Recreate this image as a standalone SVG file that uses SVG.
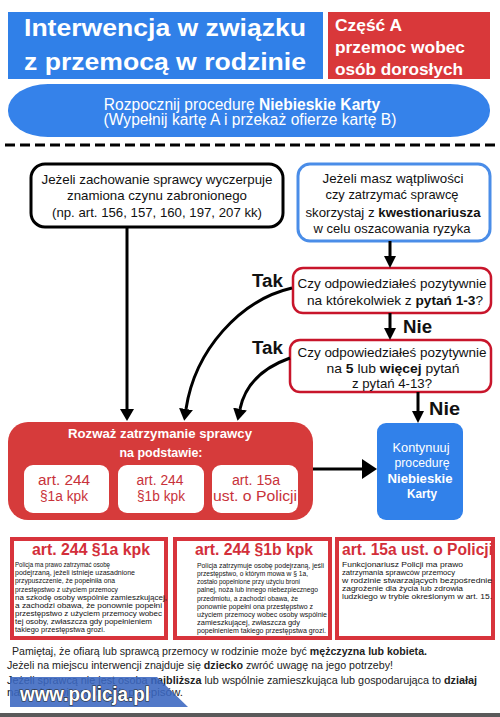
<svg xmlns="http://www.w3.org/2000/svg" width="500" height="717" viewBox="0 0 500 717">
<defs>
<style>
text{font-family:"Liberation Sans",Arial,sans-serif;}
.wt{fill:#fff}
.bd{font-weight:bold}
.ttl{font-size:23px;font-weight:bold;fill:#fff;text-anchor:middle}
.prt{font-size:16px;font-weight:bold;fill:#fff}
.band{font-size:15.6px;fill:#fff;text-anchor:middle}
.q{font-size:13.4px;fill:#111;text-anchor:middle}
.tak{font-size:18px;font-weight:bold;fill:#111}
.kt{font-size:13.5px;fill:#fff;text-anchor:middle}
.art{font-size:15.5px;fill:#c8323a;text-anchor:middle}
.hd{font-size:16px;font-weight:bold;fill:#d32f3a}
.sm{font-size:7.6px;fill:#111}
.ft{font-size:11px;fill:#222}
.box{fill:#fff;stroke-width:3}
.qb{fill:#fff;stroke:#c8152b;stroke-width:2.5}
.ar{fill:none;stroke:#000;stroke-width:3}
.lb{fill:#fff;stroke:#d8343c;stroke-width:4}
</style>
<marker id="ah" viewBox="0 0 12 14" markerWidth="12" markerHeight="14" refX="0" refY="7" orient="auto" markerUnits="userSpaceOnUse"><path d="M0,0 L12,7 L0,14 z" fill="#000"/></marker>
<marker id="ahs" viewBox="0 0 12 12" markerWidth="12" markerHeight="12" refX="0" refY="6" orient="auto" markerUnits="userSpaceOnUse"><path d="M0,0 L12,6 L0,12 z" fill="#000"/></marker>
<marker id="ahb" viewBox="0 0 15 20" markerWidth="15" markerHeight="20" refX="0" refY="10" orient="auto" markerUnits="userSpaceOnUse"><path d="M0,0 L15,10 L0,20 z" fill="#000"/></marker>
</defs>
<rect x="0" y="0" width="500" height="717" fill="#fff"/>

<g id="title">
<rect x="8" y="12" width="315" height="67" fill="#3080e8"/>
<text class="ttl" x="165" y="36" textLength="282" lengthAdjust="spacingAndGlyphs">Interwencja w związku</text>
<text class="ttl" x="165" y="70" textLength="282" lengthAdjust="spacingAndGlyphs">z przemocą w rodzinie</text>
</g>
<g id="part">
<rect x="328" y="12" width="162" height="67" fill="#d9383a"/>
<text class="prt" x="335" y="31" textLength="67" lengthAdjust="spacingAndGlyphs">Część A</text>
<text class="prt" x="335" y="53" textLength="130" lengthAdjust="spacingAndGlyphs">przemoc wobec</text>
<text class="prt" x="335" y="75" textLength="128" lengthAdjust="spacingAndGlyphs">osób dorosłych</text>
</g>
<g id="start">
<rect x="8" y="84" width="482" height="53" rx="40" ry="26" fill="#3582ea"/>
<text class="band" x="242" y="110">Rozpocznij procedurę <tspan class="bd">Niebieskie Karty</tspan></text>
<text class="band" x="250" y="125">(Wypełnij kartę A i przekaż ofierze kartę B)</text>
</g>
<line x1="5" y1="145" x2="495" y2="145" stroke="#000" stroke-width="3" stroke-dasharray="10,5"/>

<g id="crime">
<rect class="box" x="31" y="164" width="252" height="63" rx="14" stroke="#000"/>
<text class="q" x="157" y="184" textLength="231" lengthAdjust="spacingAndGlyphs">Jeżeli zachowanie sprawcy wyczerpuje</text>
<text class="q" x="157" y="200" textLength="180" lengthAdjust="spacingAndGlyphs">znamiona czynu zabronionego</text>
<text class="q" x="157" y="217" textLength="210" lengthAdjust="spacingAndGlyphs">(np. art. 156, 157, 160, 197, 207 kk)</text>
</g>
<g id="doubt">
<rect class="box" x="298" y="164" width="192" height="77" rx="12" stroke="#4a8de8"/>
<text class="q" x="393" y="183" textLength="141" lengthAdjust="spacingAndGlyphs">Jeżeli masz wątpliwości</text>
<text class="q" x="392" y="199" textLength="133" lengthAdjust="spacingAndGlyphs">czy zatrzymać sprawcę</text>
<text class="q" x="393" y="217" textLength="175" lengthAdjust="spacingAndGlyphs">skorzystaj z <tspan class="bd">kwestionariusza</tspan></text>
<text class="q" x="392" y="233" textLength="157" lengthAdjust="spacingAndGlyphs">w celu oszacowania ryzyka</text>
</g>
<g id="q1">
<rect class="qb" x="293" y="268" width="198" height="45" rx="10"/>
<text class="q" x="392" y="288" textLength="189" lengthAdjust="spacingAndGlyphs">Czy odpowiedziałeś pozytywnie</text>
<text class="q" x="395" y="305" textLength="176" lengthAdjust="spacingAndGlyphs">na którekolwiek z <tspan class="bd">pytań 1-3</tspan>?</text>
</g>
<g id="q2">
<rect class="qb" x="290" y="340" width="201" height="52" rx="10"/>
<text class="q" x="392" y="357" textLength="189" lengthAdjust="spacingAndGlyphs">Czy odpowiedziałeś pozytywnie</text>
<text class="q" x="393" y="373" textLength="133" lengthAdjust="spacingAndGlyphs">na <tspan class="bd">5</tspan> lub <tspan class="bd">więcej</tspan> pytań</text>
<text class="q" x="392" y="388" textLength="80" lengthAdjust="spacingAndGlyphs">z pytań 4-13?</text>
</g>
<g id="detain">
<rect x="8" y="422" width="305" height="98" rx="20" fill="#d63b3b"/>
<text class="kt bd" x="160" y="438" textLength="184" lengthAdjust="spacingAndGlyphs">Rozważ zatrzymanie sprawcy</text>
<text class="kt bd" x="161" y="457" textLength="83" lengthAdjust="spacingAndGlyphs">na podstawie:</text>
<rect x="24" y="465" width="85" height="48" rx="9" fill="#fff"/>
<rect x="118" y="465" width="86" height="48" rx="9" fill="#fff"/>
<rect x="212" y="465" width="86" height="48" rx="9" fill="#fff"/>
<text class="art" x="64" y="485" textLength="52" lengthAdjust="spacingAndGlyphs">art. 244</text>
<text class="art" x="64" y="501" textLength="48" lengthAdjust="spacingAndGlyphs">§1a kpk</text>
<text class="art" x="160" y="485" textLength="47" lengthAdjust="spacingAndGlyphs">art. 244</text>
<text class="art" x="161" y="501" textLength="48" lengthAdjust="spacingAndGlyphs">§1b kpk</text>
<text class="art" x="256" y="485" textLength="48" lengthAdjust="spacingAndGlyphs">art. 15a</text>
<text class="art" x="255" y="501" textLength="84" lengthAdjust="spacingAndGlyphs">ust. o Policji</text>
</g>
<g id="continue">
<rect x="377" y="423" width="86" height="97" rx="9" fill="#3181ea"/>
<text class="kt" x="421" y="452" textLength="57" lengthAdjust="spacingAndGlyphs">Kontynuuj</text>
<text class="kt" x="422" y="467" textLength="55" lengthAdjust="spacingAndGlyphs">procedurę</text>
<text class="kt bd" x="420" y="483" textLength="65" lengthAdjust="spacingAndGlyphs">Niebieskie</text>
<text class="kt bd" x="422" y="498" textLength="30" lengthAdjust="spacingAndGlyphs">Karty</text>
</g>

<g id="connectors">
<line class="ar" x1="127" y1="227" x2="127" y2="409" marker-end="url(#ah)"/>
<path class="ar" stroke-width="2.6" d="M292,288 C240,300 195,350 186,409" marker-end="url(#ah)"/>
<path class="ar" stroke-width="2.6" d="M290,358 C262,368 245,385 240,409" marker-end="url(#ah)"/>
<line class="ar" x1="390" y1="241" x2="390" y2="256" marker-end="url(#ahs)"/>
<line class="ar" x1="390" y1="313" x2="390" y2="328" marker-end="url(#ahs)"/>
<line class="ar" x1="418" y1="392" x2="418" y2="411" marker-end="url(#ahs)"/>
<line class="ar" stroke-width="4" x1="313" y1="469" x2="362" y2="469" marker-end="url(#ahb)"/>
<text class="tak" x="252" y="287" textLength="31" lengthAdjust="spacingAndGlyphs">Tak</text>
<text class="tak" x="252" y="354" textLength="31" lengthAdjust="spacingAndGlyphs">Tak</text>
<text class="tak" x="403" y="333" textLength="29" lengthAdjust="spacingAndGlyphs">Nie</text>
<text class="tak" x="429" y="415" textLength="31" lengthAdjust="spacingAndGlyphs">Nie</text>
</g>

<g id="law1">
<rect class="lb" x="12" y="539" width="154" height="99"/>
<text class="hd" x="32" y="555" textLength="118" lengthAdjust="spacingAndGlyphs">art. 244 §1a kpk</text>
<text class="sm" x="15" y="567" textLength="95" lengthAdjust="spacingAndGlyphs">Policja ma prawo zatrzymać osobę</text>
<text class="sm" x="15" y="575" textLength="120" lengthAdjust="spacingAndGlyphs">podejrzaną, jeżeli istnieje uzasadnione</text>
<text class="sm" x="15" y="583" textLength="100" lengthAdjust="spacingAndGlyphs">przypuszczenie, że popełniła ona</text>
<text class="sm" x="15" y="592" textLength="103" lengthAdjust="spacingAndGlyphs">przestępstwo z użyciem przemocy</text>
<text class="sm" x="15" y="600" textLength="152" lengthAdjust="spacingAndGlyphs">na szkodę osoby wspólnie zamieszkującej,</text>
<text class="sm" x="15" y="608" textLength="147" lengthAdjust="spacingAndGlyphs">a zachodzi obawa, że ponownie popełni</text>
<text class="sm" x="15" y="616" textLength="147" lengthAdjust="spacingAndGlyphs">przestępstwo z użyciem przemocy wobec</text>
<text class="sm" x="15" y="624" textLength="137" lengthAdjust="spacingAndGlyphs">tej osoby, zwłaszcza gdy popełnieniem</text>
<text class="sm" x="15" y="632" textLength="90" lengthAdjust="spacingAndGlyphs">takiego przestępstwa grozi.</text>
</g>
<g id="law2">
<rect class="lb" x="175" y="539" width="155" height="99"/>
<text class="hd" x="195" y="555" textLength="118" lengthAdjust="spacingAndGlyphs">art. 244 §1b kpk</text>
<text class="sm" x="197" y="568" textLength="127" lengthAdjust="spacingAndGlyphs">Policja zatrzymuje osobę podejrzaną, jeśli</text>
<text class="sm" x="197" y="576" textLength="111" lengthAdjust="spacingAndGlyphs">przestępstwo, o którym mowa w § 1a,</text>
<text class="sm" x="197" y="584" textLength="103" lengthAdjust="spacingAndGlyphs">zostało popełnione przy użyciu broni</text>
<text class="sm" x="197" y="592" textLength="121" lengthAdjust="spacingAndGlyphs">palnej, noża lub innego niebezpiecznego</text>
<text class="sm" x="197" y="601" textLength="101" lengthAdjust="spacingAndGlyphs">przedmiotu, a zachodzi obawa, że</text>
<text class="sm" x="197" y="609" textLength="116" lengthAdjust="spacingAndGlyphs">ponownie popełni ona przestępstwo z</text>
<text class="sm" x="197" y="617" textLength="130" lengthAdjust="spacingAndGlyphs">użyciem  przemocy wobec osoby wspólnie</text>
<text class="sm" x="197" y="625" textLength="103" lengthAdjust="spacingAndGlyphs">zamieszkującej, zwłaszcza gdy</text>
<text class="sm" x="197" y="633" textLength="129" lengthAdjust="spacingAndGlyphs">popełnieniem takiego przestępstwa grozi.</text>
</g>
<g id="law3">
<rect class="lb" x="337" y="539" width="156" height="99"/>
<text class="hd" x="342" y="555" textLength="151" lengthAdjust="spacingAndGlyphs">art. 15a ust. o Policji</text>
<text class="sm" x="342" y="567" textLength="121" lengthAdjust="spacingAndGlyphs">Funkcjonariusz Policji ma prawo</text>
<text class="sm" x="342" y="575" textLength="113" lengthAdjust="spacingAndGlyphs">zatrzymania sprawców przemocy</text>
<text class="sm" x="342" y="583" textLength="150" lengthAdjust="spacingAndGlyphs">w rodzinie stwarzających bezpośrednie</text>
<text class="sm" x="342" y="591" textLength="121" lengthAdjust="spacingAndGlyphs">zagrożenie dla życia lub zdrowia</text>
<text class="sm" x="342" y="599" textLength="150" lengthAdjust="spacingAndGlyphs">ludzkiego w trybie określonym w art. 15.</text>
</g>

<g id="notes">
<text class="ft" x="12" y="655" textLength="415" lengthAdjust="spacingAndGlyphs">Pamiętaj, że ofiarą lub sprawcą przemocy w rodzinie może być <tspan class="bd">mężczyzna lub kobieta.</tspan></text>
<text class="ft" x="7" y="669" textLength="386" lengthAdjust="spacingAndGlyphs">Jeżeli na miejscu interwencji znajduje się <tspan class="bd">dziecko</tspan> zwróć uwagę na jego potrzeby!</text>
<text class="ft" x="7" y="684" textLength="470" lengthAdjust="spacingAndGlyphs">Jeżeli sprawcą nie jest osoba <tspan class="bd">najbliższa</tspan> lub wspólnie zamieszkująca lub gospodarująca to <tspan class="bd">działaj</tspan></text>
<text class="ft" x="7" y="696" textLength="176" lengthAdjust="spacingAndGlyphs">na podstawie ogólnych przepisów.</text>
</g>
<g id="watermark">
<polygon points="10,677 157,677 188,707 10,707" fill="#3a66c0" fill-opacity="0.88"/>
<text x="20" y="701" font-size="20" font-weight="bold" fill="#fff" stroke="#2a2a2a" stroke-width="1.2" paint-order="stroke" textLength="130" lengthAdjust="spacingAndGlyphs">www.policja.pl</text>
</g>
<rect x="0" y="713" width="500" height="4" fill="#5a5a5a"/>
</svg>
